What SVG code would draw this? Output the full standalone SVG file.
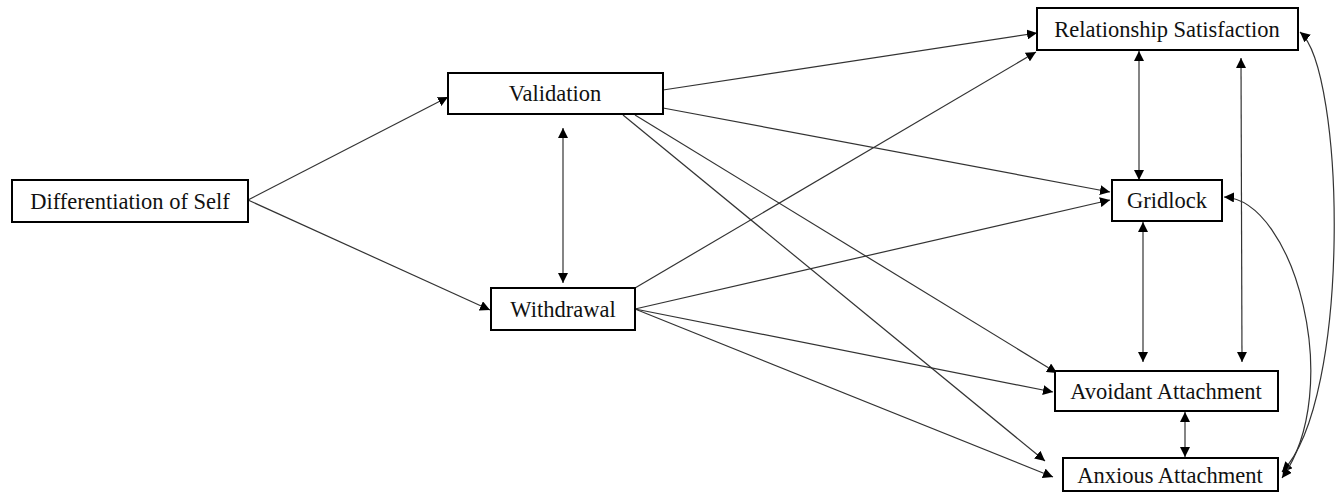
<svg xmlns="http://www.w3.org/2000/svg" width="1342" height="501" viewBox="0 0 1342 501">
<style>
.box{fill:#fff;stroke:#000;stroke-width:2}
.lbl{font-family:"Liberation Serif","Times New Roman",serif;font-size:22.5px;fill:#111;text-anchor:middle}
.ln{fill:none;stroke:#333;stroke-width:1.2}
</style>
<defs>
<marker id="ah" viewBox="0 0 10 10" refX="10" refY="5" markerWidth="10" markerHeight="10" markerUnits="userSpaceOnUse" orient="auto-start-reverse">
<path d="M0,0 L10,5 L0,10 z" fill="#000"/>
</marker>
</defs>
<rect width="1342" height="501" fill="#fff"/>
<g id="connectors">
<line class="ln" x1="248" y1="200" x2="448" y2="97" marker-end="url(#ah)"/>
<line class="ln" x1="248" y1="200" x2="490" y2="310" marker-end="url(#ah)"/>
<line class="ln" x1="563" y1="128" x2="563" y2="283" marker-start="url(#ah)" marker-end="url(#ah)"/>
<line class="ln" x1="663" y1="90" x2="1037" y2="33" marker-end="url(#ah)"/>
<line class="ln" x1="663" y1="108" x2="1110" y2="192" marker-end="url(#ah)"/>
<line class="ln" x1="635" y1="115" x2="1057" y2="373" marker-end="url(#ah)"/>
<line class="ln" x1="623" y1="115" x2="1045" y2="461" marker-end="url(#ah)"/>
<line class="ln" x1="635" y1="288" x2="1036" y2="52" marker-end="url(#ah)"/>
<line class="ln" x1="635" y1="309" x2="1110" y2="200" marker-end="url(#ah)"/>
<line class="ln" x1="635" y1="309" x2="1053" y2="392" marker-end="url(#ah)"/>
<line class="ln" x1="635" y1="309" x2="1053" y2="477" marker-end="url(#ah)"/>
<line class="ln" x1="1139" y1="51" x2="1139" y2="180" marker-start="url(#ah)" marker-end="url(#ah)"/>
<line class="ln" x1="1241" y1="58" x2="1242" y2="362" marker-start="url(#ah)" marker-end="url(#ah)"/>
<line class="ln" x1="1143" y1="222" x2="1143" y2="362" marker-start="url(#ah)" marker-end="url(#ah)"/>
<line class="ln" x1="1185" y1="412" x2="1185" y2="457" marker-start="url(#ah)" marker-end="url(#ah)"/>
<path class="ln" d="M1300,32 C1345,70 1352,400 1282,472" marker-start="url(#ah)" marker-end="url(#ah)"/>
<path class="ln" d="M1224,197 C1295,200 1345,390 1282,478" marker-start="url(#ah)" marker-end="url(#ah)"/>
</g>
<g id="dos"><rect class="box" x="12" y="180" width="236" height="42"/><text class="lbl" x="130" y="209">Differentiation of Self</text></g>
<g id="validation"><rect class="box" x="448" y="73" width="215" height="41"/><text class="lbl" x="555" y="101">Validation</text></g>
<g id="withdrawal"><rect class="box" x="491" y="288" width="144" height="42"/><text class="lbl" x="563" y="317">Withdrawal</text></g>
<g id="satisfaction"><rect class="box" x="1037" y="8" width="261" height="42"/><text class="lbl" x="1167" y="37">Relationship Satisfaction</text></g>
<g id="gridlock"><rect class="box" x="1112" y="180" width="110" height="41"/><text class="lbl" x="1167" y="208">Gridlock</text></g>
<g id="avoidant"><rect class="box" x="1055" y="371" width="223" height="40"/><text class="lbl" x="1166" y="399">Avoidant Attachment</text></g>
<g id="anxious"><rect class="box" x="1063" y="458" width="215" height="33"/><text class="lbl" x="1170" y="483">Anxious Attachment</text></g>
</svg>
